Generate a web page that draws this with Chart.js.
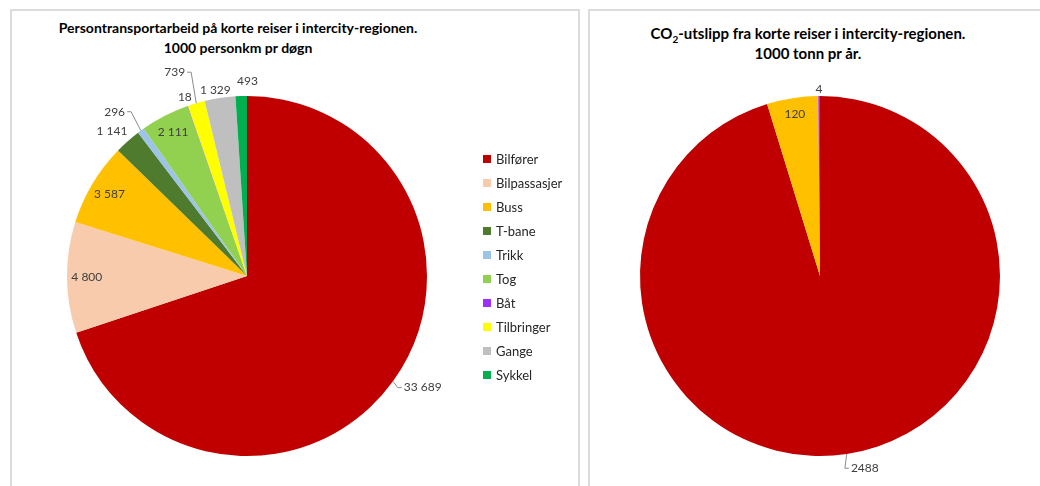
<!DOCTYPE html>
<html lang="no">
<head>
  <meta charset="UTF-8">
  <title>Korte reiser i intercity-regionen</title>
  <script src="https://cdn.jsdelivr.net/npm/chart.js"></script>
  <style>
    body { margin: 0; background: #fff; overflow: hidden; font-family: Lato, "Noto Sans", sans-serif; }
    .panel { position: absolute; top: 9px; height: 500px; border: 2px solid #dcdcdc; border-bottom: none; background: #fff; }
    #panel1 { left: 10px; width: 566px; }
    #panel2 { left: 588px; width: 460px; }
    .title { position: absolute; left: 0; text-align: center; font-weight: bold; line-height: 20px; color: #000; }
    .title sub { font-size: 10px; line-height: 0; }
    #panel1 .title { top: 7px; width: 452px; font-size: 14px; }
    #panel2 .title { top: 12px; width: 436px; font-size: 15px; }
    canvas { position: absolute; left: 0; top: 0; }
    #legend { position: absolute; left: 471px; top: 136px; margin: 0; padding: 0; list-style: none; }
    #legend li { height: 24px; display: flex; align-items: center; font-size: 13px; color: #262626; }
    #legend span { display: inline-block; width: 8px; height: 8px; margin-right: 5px; }
  </style>
</head>
<body>
  <div class="panel" id="panel1">
    <div class="title">Persontransportarbeid på korte reiser i intercity-regionen.<br>1000 personkm pr døgn</div>
    <canvas id="chartKm" width="566" height="480"></canvas>
    <ul id="legend"></ul>
  </div>
  <div class="panel" id="panel2">
    <div class="title">CO<sub>2</sub>-utslipp fra korte reiser i intercity-regionen.<br>1000 tonn pr år.</div>
    <canvas id="chartCo2" width="450" height="480"></canvas>
  </div>

  <script>
    // transportmidler
    const categories = ["Bilfører", "Bilpassasjer", "Buss", "T-bane", "Trikk", "Tog", "Båt", "Tilbringer", "Gange", "Sykkel"];
    // 1000 personkm pr døgn
    const personkm = [33689, 4800, 3587, 1141, 296, 2111, 18, 739, 1329, 493];
    // 1000 tonn CO2 pr år
    const co2 = [2488, 0, 120, 0, 0, 0, 4, 0, 0, 0];

    const colors = ["#C00000", "#F8CBAD", "#FFC000", "#4F7B2E", "#9DC3E6", "#92D050", "#9B30FF", "#FFFF00", "#BFBFBF", "#00B050"];

    // tall med mellomrom som tusenskille
    function spaced(v) {
      return String(v).replace(/\B(?=(\d{3})+(?!\d))/g, " ");
    }

    // verdietiketter på sektorene, evt. med hjelpelinje
    const sliceLabels = {
      id: "sliceLabels",
      afterDatasetsDraw(chart, args, opts) {
        const ctx = chart.ctx;
        const values = chart.data.datasets[0].data;
        ctx.save();
        ctx.font = '12px Lato, "Noto Sans", sans-serif';
        ctx.fillStyle = "#404040";
        ctx.strokeStyle = "#8c8c8c";
        ctx.lineWidth = 1;
        ctx.textBaseline = "middle";
        chart.getDatasetMeta(0).data.forEach((arc, i) => {
          if (!values[i]) return;
          const p = arc.getProps(["x", "y", "startAngle", "endAngle", "outerRadius"], true);
          const mid = (p.startAngle + p.endAngle) / 2 + (opts.nudge[i] || 0) * Math.PI / 180;
          const r = p.outerRadius * opts.radius[i];
          const lx = p.x + Math.cos(mid) * r;
          const ly = p.y + Math.sin(mid) * r;
          const text = opts.format(values[i]);
          if (opts.leader[i]) {
            const right = Math.cos(mid) >= 0;
            const ex = p.x + Math.cos(mid) * p.outerRadius;
            const ey = p.y + Math.sin(mid) * p.outerRadius;
            ctx.beginPath();
            ctx.moveTo(ex, ey);
            ctx.lineTo(lx + (right ? -4 : 4), ly);
            ctx.lineTo(lx, ly);
            ctx.stroke();
            ctx.textAlign = right ? "left" : "right";
            ctx.fillText(text, lx + (right ? 2 : -2), ly);
          } else {
            ctx.textAlign = "center";
            ctx.fillText(text, lx, ly);
          }
        });
        ctx.restore();
      }
    };

    function drawPie(id, values, padding, labelOpts) {
      return new Chart(document.getElementById(id), {
        type: "pie",
        data: {
          labels: categories,
          datasets: [{ data: values, backgroundColor: colors, borderWidth: 0 }]
        },
        options: {
          responsive: false,
          animation: false,
          layout: { padding: padding },
          plugins: {
            legend: { display: false },
            tooltip: { enabled: false },
            sliceLabels: labelOpts
          }
        },
        plugins: [sliceLabels]
      });
    }

    const kmChart = drawPie("chartKm", personkm, { left: 0, right: 96, top: 85, bottom: 35 }, {
      radius: [1.06, 0.89, 0.89, 1.10, 1.13, 0.90, 1.05, 1.18, 1.05, 1.08],
      nudge: [0, 0, 0, -1.5, 0, 0, 0, 0, -1, 2],
      leader: [true, false, false, false, true, false, false, true, false, false],
      format: spaced
    });

    drawPie("chartCo2", co2, { left: 10, right: 0, top: 85, bottom: 35 }, {
      radius: [1.08, 1, 0.91, 1, 1, 1, 1.04, 1, 1, 1],
      nudge: [],
      leader: [true, false, false, false, false, false, false, false, false, false],
      format: v => String(v)
    });

    // forklaring ved siden av personkm-diagrammet
    const legendList = document.getElementById("legend");
    Chart.overrides.pie.plugins.legend.labels.generateLabels(kmChart).forEach(item => {
      const li = document.createElement("li");
      const box = document.createElement("span");
      box.style.background = item.fillStyle;
      li.appendChild(box);
      li.appendChild(document.createTextNode(item.text));
      legendList.appendChild(li);
    });
  </script>
</body>
</html>
